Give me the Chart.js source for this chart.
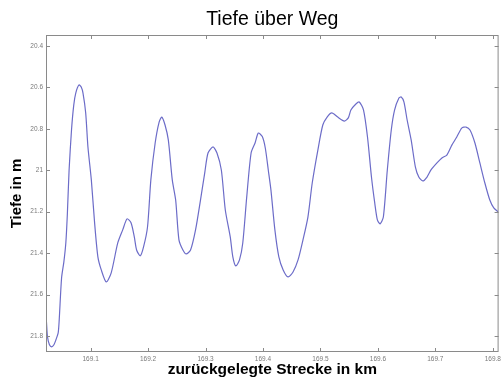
<!DOCTYPE html>
<html>
<head>
<meta charset="utf-8">
<title>Tiefe über Weg</title>
<script src="https://cdn.jsdelivr.net/npm/chart.js@4/dist/chart.umd.min.js"></script>
<style>
  html, body { margin: 0; padding: 0; background: #fff; }
  canvas { display: block; }
</style>
</head>
<body>
<canvas id="canvas" width="504" height="380"></canvas>
<script>
// zurückgelegte Strecke (km) und Tiefe (m)
const strecke = [
  169.0231, 169.0249, 169.0283, 169.0321, 169.0361, 169.0396, 169.0435, 169.0453, 169.0494, 169.0534,
  169.0568, 169.0594, 169.0625, 169.0667, 169.0706, 169.0741, 169.0798, 169.0836, 169.0867, 169.0914,
  169.0953, 169.1012, 169.1069, 169.1126, 169.1185, 169.1271, 169.1358, 169.1472, 169.1558, 169.1634,
  169.1703, 169.1760, 169.1800, 169.1864, 169.1921, 169.1990, 169.2048, 169.2123, 169.2192, 169.2238,
  169.2295, 169.2352, 169.2421, 169.2480, 169.2537, 169.2606, 169.2663, 169.2739, 169.2826, 169.2912,
  169.2986, 169.3043, 169.3130, 169.3199, 169.3275, 169.3344, 169.3430, 169.3475, 169.3527, 169.3591,
  169.3648, 169.3717, 169.3793, 169.3862, 169.3919, 169.3988, 169.4040, 169.4092, 169.4138, 169.4207,
  169.4276, 169.4351, 169.4437, 169.4523, 169.4610, 169.4696, 169.4782, 169.4857, 169.4955, 169.5041,
  169.5116, 169.5197, 169.5301, 169.5416, 169.5485, 169.5530, 169.5617, 169.5675, 169.5750, 169.5819,
  169.5888, 169.5945, 169.5991, 169.6038, 169.6095, 169.6164, 169.6233, 169.6290, 169.6366, 169.6406,
  169.6453, 169.6509, 169.6579, 169.6653, 169.6712, 169.6781, 169.6855, 169.6924, 169.7028, 169.7114,
  169.7200, 169.7287, 169.7373, 169.7459, 169.7534, 169.7603, 169.7689, 169.7775, 169.7862, 169.7948,
  169.8017, 169.8093
];
const tiefe = [
  21.732, 21.804, 21.842, 21.852, 21.842, 21.818, 21.785, 21.722, 21.520, 21.442,
  21.351, 21.216, 20.999, 20.806, 20.686, 20.628, 20.589, 20.599, 20.628, 20.724,
  20.888, 21.047, 21.254, 21.418, 21.481, 21.539, 21.495, 21.351, 21.288, 21.235,
  21.254, 21.322, 21.385, 21.413, 21.370, 21.274, 21.047, 20.869, 20.768, 20.744,
  20.782, 20.854, 21.047, 21.144, 21.336, 21.385, 21.404, 21.385, 21.288, 21.144,
  21.013, 20.917, 20.888, 20.917, 20.999, 21.192, 21.322, 21.418, 21.462, 21.433,
  21.351, 21.129, 20.917, 20.869, 20.821, 20.838, 20.893, 20.999, 21.095, 21.288,
  21.418, 21.481, 21.515, 21.491, 21.433, 21.336, 21.226, 21.062, 20.903, 20.782,
  20.744, 20.724, 20.744, 20.763, 20.748, 20.710, 20.681, 20.671, 20.710, 20.840,
  21.033, 21.158, 21.240, 21.259, 21.226, 20.999, 20.806, 20.710, 20.652, 20.647,
  20.671, 20.758, 20.854, 20.985, 21.033, 21.052, 21.033, 20.999, 20.965, 20.941,
  20.927, 20.879, 20.840, 20.797, 20.792, 20.806, 20.869, 20.965, 21.062, 21.144,
  21.182, 21.201
];
const xTicks = [169.1, 169.2, 169.3, 169.4, 169.5, 169.6, 169.7, 169.8];
const yTicks = [20.4, 20.6, 20.8, 21, 21.2, 21.4, 21.6, 21.8];

const FONT = '"Liberation Sans", Arial, sans-serif';
const X_MIN = 169.0223;
const X_MAX = 169.8101;

// Rahmen mit nach innen zeigenden Ticks (wie bei Matlab)
const framePlugin = {
  id: 'frame',
  afterDatasetsDraw(chart) {
    const { ctx, chartArea: a, scales: { x, y } } = chart;
    ctx.save();
    ctx.strokeStyle = '#8a8a8a';
    ctx.lineWidth = 1;
    ctx.strokeRect(a.left + 0.5, a.top + 0.5, a.width - 1, a.height - 1);
    ctx.beginPath();
    xTicks.forEach((v) => {
      const px = Math.round(x.getPixelForValue(v)) + 0.5;
      ctx.moveTo(px, a.bottom);
      ctx.lineTo(px, a.bottom - 4);
      ctx.moveTo(px, a.top);
      ctx.lineTo(px, a.top + 4);
    });
    yTicks.forEach((v) => {
      const py = Math.round(y.getPixelForValue(v)) + 0.5;
      ctx.moveTo(a.left, py);
      ctx.lineTo(a.left + 4, py);
      ctx.moveTo(a.right, py);
      ctx.lineTo(a.right - 4, py);
    });
    ctx.stroke();
    ctx.restore();
  },
};

const canvas = document.getElementById('canvas');

new Chart(canvas, {
  type: 'line',
  data: {
    datasets: [
      {
        label: 'Tiefe',
        data: strecke.map((km, i) => ({ x: km, y: tiefe[i] })),
        borderColor: 'rgb(108, 108, 200)',
        borderWidth: 1.2,
        pointRadius: 0,
        tension: 0.25,
        fill: false,
      },
    ],
  },
  options: {
    responsive: false,
    animation: false,
    devicePixelRatio: 1,
    layout: { padding: { left: 0, right: 2, top: 0, bottom: 0 } },
    plugins: {
      legend: { display: false },
      tooltip: { enabled: false },
      title: { display: false },
    },
    scales: {
      x: {
        type: 'linear',
        min: X_MIN,
        max: X_MAX,
        afterBuildTicks: (scale) => {
          scale.ticks = xTicks.map((v) => ({ value: v }));
        },
        afterFit: (scale) => {
          scale.height = 28;
        },
        grid: { display: false, drawTicks: false },
        border: { display: false },
        ticks: {
          color: '#7a7a7a',
          padding: 3,
          maxRotation: 0,
          autoSkip: false,
          font: { family: FONT, size: 6.5 },
          callback: (v) => Number(v).toFixed(1),
        },
        title: {
          display: true,
          text: 'zurückgelegte Strecke in km',
          color: '#000',
          font: { family: FONT, size: 15.5, weight: 'bold', lineHeight: 1.2 },
          padding: { top: 0, bottom: 1 },
        },
      },
      // obere Achse nur für den Diagrammtitel, damit er über der Zeichenfläche zentriert ist
      top: {
        type: 'linear',
        position: 'top',
        min: X_MIN,
        max: X_MAX,
        afterFit: (scale) => {
          scale.height = 35;
        },
        grid: { display: false, drawTicks: false },
        border: { display: false },
        ticks: { display: false },
        title: {
          display: true,
          text: 'Tiefe über Weg',
          color: '#000',
          font: { family: FONT, size: 19.5, weight: 'normal', lineHeight: 1.2 },
          padding: { top: 8, bottom: 0 },
        },
      },
      y: {
        type: 'linear',
        reverse: true,
        min: 20.348,
        max: 21.877,
        afterBuildTicks: (scale) => {
          scale.ticks = yTicks.map((v) => ({ value: v }));
        },
        afterFit: (scale) => {
          scale.width = 46;
        },
        grid: { display: false, drawTicks: false },
        border: { display: false },
        ticks: {
          color: '#7a7a7a',
          padding: 3,
          autoSkip: false,
          font: { family: FONT, size: 6.5 },
          callback: (v) => String(Number(Number(v).toFixed(1))),
        },
        title: {
          display: true,
          text: 'Tiefe in m',
          color: '#000',
          font: { family: FONT, size: 15, weight: 'bold', lineHeight: 1.2 },
          padding: { top: 8, bottom: 0 },
        },
      },
    },
  },
  plugins: [framePlugin],
});
</script>
</body>
</html>
